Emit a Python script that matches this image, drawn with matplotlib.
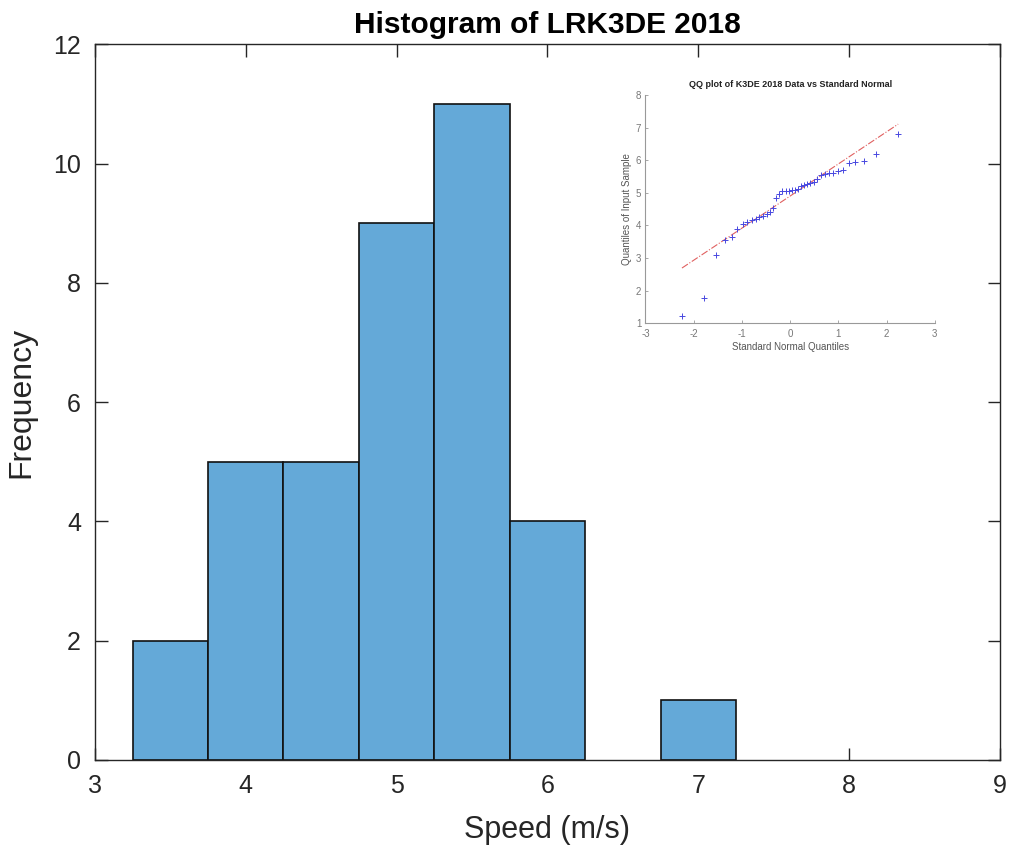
import numpy as np
import matplotlib.pyplot as plt
from statistics import NormalDist

plt.rcParams['font.family'] = ['Liberation Sans', 'DejaVu Sans']
plt.rcParams['axes.unicode_minus'] = False

# Histogram bins (left edges) and counts of wind speed
bin_left = [3.25, 3.75, 4.25, 4.75, 5.25, 5.75, 6.25, 6.75]
counts = [2, 5, 5, 9, 11, 4, 0, 1]
bin_width = 0.5

# Sorted sample used in the QQ plot (K3DE 2018)
qq_sample = [1.23, 1.79, 3.09, 3.57, 3.66, 3.88, 4.03, 4.12, 4.16, 4.20,
             4.25, 4.30, 4.36, 4.42, 4.53, 4.85, 4.95, 5.06, 5.07, 5.07,
             5.08, 5.10, 5.12, 5.20, 5.24, 5.27, 5.30, 5.33, 5.42, 5.56,
             5.58, 5.60, 5.62, 5.68, 5.70, 5.90, 5.95, 5.98, 6.20, 6.80]

fig = plt.figure(figsize=(10.1, 8.52), dpi=100)
ax = fig.add_axes([0.094, 0.108, 0.896, 0.840])

# empty bins get no outline
nonzero = [(x, c) for x, c in zip(bin_left, counts) if c > 0]
ax.bar([x for x, _ in nonzero], [c for _, c in nonzero], width=bin_width,
       align='edge', color='#64A9D8', edgecolor='#111111', linewidth=1.2, zorder=2)

ax.set_xlim(3, 9)
ax.set_ylim(0, 12)
ax.set_xticks(range(3, 10))
ax.set_yticks(range(0, 13, 2))
axis_col = '#262626'
for s in ax.spines.values():
    s.set_color(axis_col)
    s.set_linewidth(1.0)
ax.tick_params(direction='in', length=9, width=1.0, color=axis_col,
               labelsize=18, labelcolor=axis_col, top=True, right=True, pad=10)
ax.set_xlabel('Speed (m/s)', fontsize=22, color=axis_col, labelpad=12)
ax.set_ylabel('Frequency', fontsize=23, color=axis_col, labelpad=12)
ax.set_title('Histogram of LRK3DE 2018', fontsize=21.5, fontweight='bold', pad=8)

# QQ plot inset
n = len(qq_sample)
theo = np.array([NormalDist().inv_cdf((i - 0.5) / n) for i in range(1, n + 1)])
samp = np.array(qq_sample)
q1, q3 = np.percentile(samp, [25, 75])
z1, z3 = NormalDist().inv_cdf(0.25), NormalDist().inv_cdf(0.75)
slope = (q3 - q1) / (z3 - z1)
icpt = q1 - slope * z1
xl = np.array([theo[0], theo[-1]])

ins = fig.add_axes([0.639, 0.6205, 0.2865, 0.268])
ins.plot(xl, icpt + slope * xl, color='#E06060', linestyle='-.', linewidth=0.8)
ins.plot(theo, samp, '+', color='#4848E0', markersize=5, markeredgewidth=0.7)
ins.set_xlim(-3, 3)
ins.set_ylim(1, 8)
ins.set_xticks(range(-3, 4))
ins.set_yticks(range(1, 9))
gray = '#777777'
for side in ['top', 'right']:
    ins.spines[side].set_visible(False)
for side in ['left', 'bottom']:
    ins.spines[side].set_color('#999999')
    ins.spines[side].set_linewidth(0.8)
ins.tick_params(direction='in', length=2.5, width=0.6, color='#999999',
                labelsize=7, labelcolor=gray)
ins.tick_params(axis='x', pad=4)
ins.tick_params(axis='y', pad=3)
ins.set_xlabel('Standard Normal Quantiles', fontsize=7, color='#555555', labelpad=2)
ins.set_ylabel('Quantiles of Input Sample', fontsize=7, color='#555555', labelpad=3)
ins.set_title('QQ plot of K3DE 2018 Data vs Standard Normal', fontsize=6.5,
              fontweight='bold', color='#222222', pad=6)

fig.savefig('out.png', dpi=100)
